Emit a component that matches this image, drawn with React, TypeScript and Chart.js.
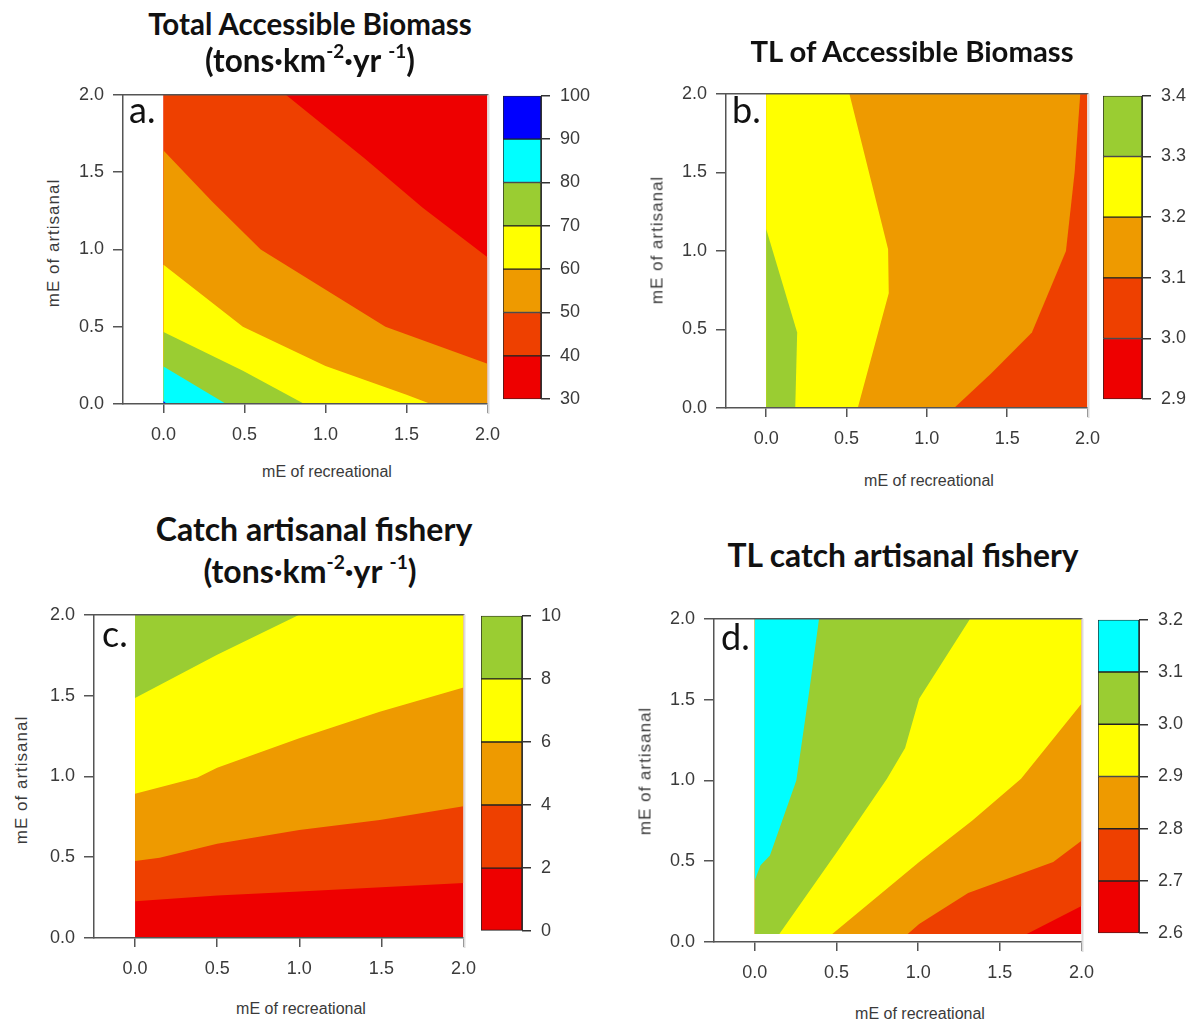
import React, { useEffect, useRef } from 'react';
import { Chart, registerables } from 'chart.js';

Chart.register(...registerables);

// ---------------- shared axis values ----------------
const recreationalTicks = [0, 0.5, 1, 1.5, 2];
const artisanalTicks = [0, 0.5, 1, 1.5, 2];
const recreationalRange = [-0.25, 2];
const artisanalRange = [0, 2];
const effortDomainX = [0, 2];

// ---------------- a. Total accessible biomass ----------------
const biomassLevels = [30, 40, 50, 60, 70, 80, 90, 100];
const biomassDomainY = [0, 2];
const biomassBaseBand = 0;
const biomassC40 = [[0.755, 2], [1.24, 1.59], [1.6, 1.27], [2, 0.95]];
const biomassC50 = [[0, 1.64], [0.3, 1.31], [0.6, 1.0], [1.37, 0.5], [2, 0.26]];
const biomassC60 = [[0, 0.9], [0.49, 0.5], [1.0, 0.245], [1.5, 0.06], [1.65, 0]];
const biomassC70 = [[0, 0.465], [0.49, 0.215], [0.87, 0]];
const biomassC80 = [[0, 0.242], [0.387, 0]];
const biomassC90 = [[0, 0.02], [0.02, 0]];

// ---------------- b. TL of accessible biomass ----------------
const tlBiomassLevels = [2.9, 3.0, 3.1, 3.2, 3.3, 3.4];
const tlBiomassDomainY = [0, 2];
const tlBiomassBaseBand = 1;
const tlBiomassC31 = [[1.955, 2], [1.92, 1.5], [1.866, 1.0], [1.654, 0.48], [1.4, 0.22], [1.17, 0]];
const tlBiomassC32 = [[0.518, 2], [0.759, 1.01], [0.763, 0.73], [0.57, 0]];
const tlBiomassC33 = [[0, 1.14], [0.193, 0.48], [0.181, 0]];

// ---------------- c. Catch artisanal fishery ----------------
const catchLevels = [0, 2, 4, 6, 8, 10];
const catchDomainY = [0, 2];
const catchBaseBand = 0;
const catchC2 = [[2, 0.34], [1.0, 0.288], [0.5, 0.263], [0, 0.227]];
const catchC4 = [[2, 0.815], [1.49, 0.73], [1.0, 0.669], [0.5, 0.584], [0.15, 0.496], [0, 0.476]];
const catchC6 = [[2, 1.55], [1.49, 1.4], [1.0, 1.236], [0.5, 1.054], [0.38, 0.993], [0, 0.892]];
const catchC8 = [[1.0, 2], [0.5, 1.753], [0, 1.485]];

// ---------------- d. TL catch artisanal fishery ----------------
const tlCatchLevels = [2.6, 2.7, 2.8, 2.9, 3.0, 3.1, 3.2];
const tlCatchDomainY = [0.05, 2];
const tlCatchBaseBand = 0;
const tlCatchC27 = [[2, 0.222], [1.665, 0.05]];
const tlCatchC28 = [[2, 0.626], [1.827, 0.495], [1.306, 0.303], [1.006, 0.111], [0.936, 0.05]];
const tlCatchC29 = [[2, 1.475], [1.63, 1.01], [1.33, 0.75], [1.006, 0.495], [0.474, 0.05]];
const tlCatchC30 = [[1.318, 2], [1.006, 1.505], [0.92, 1.2], [0.809, 1.01], [0.509, 0.566], [0.15, 0.05]];
const tlCatchC31 = [[0.393, 2], [0.335, 1.566], [0.254, 1.0], [0.0925, 0.535], [0.035, 0.475], [0, 0.384]];

// ---------------- styles ----------------
const PALETTE = ['#EE0000', '#EE4000', '#EE9A00', '#FFFF00', '#9ACD32', '#00FFFF', '#0000FF'];
const FONT_AXIS = "'Liberation Sans', Arial, Helvetica, sans-serif";
const FONT_TITLE = "Lato, 'Open Sans', sans-serif";
const TEXT_GRAY = '#3a3a3a';
const AXIS_GRAY = '#555555';

type Box = { left: number; top: number; right: number; bottom: number };
type LineSpec = { band: number; points: number[][] };
type PanelSpec = {
  key: string;
  levels: number[];
  domainY: number[];
  baseBand: number;
  contours: LineSpec[];
  decimals: number;
  plot: Box;
  bar: Box;
};

const panels: PanelSpec[] = [
  {
    key: 'a',
    levels: biomassLevels,
    domainY: biomassDomainY,
    baseBand: biomassBaseBand,
    contours: [
      { band: 1, points: biomassC40 },
      { band: 2, points: biomassC50 },
      { band: 3, points: biomassC60 },
      { band: 4, points: biomassC70 },
      { band: 5, points: biomassC80 },
      { band: 6, points: biomassC90 },
    ],
    decimals: 0,
    plot: { left: 123, top: 87, right: 491, bottom: 404 },
    bar: { left: 503, top: 87, right: 541, bottom: 408 },
  },
  {
    key: 'b',
    levels: tlBiomassLevels,
    domainY: tlBiomassDomainY,
    baseBand: tlBiomassBaseBand,
    contours: [
      { band: 2, points: tlBiomassC31 },
      { band: 3, points: tlBiomassC32 },
      { band: 4, points: tlBiomassC33 },
    ],
    decimals: 1,
    plot: { left: 726, top: 86, right: 1091, bottom: 408 },
    bar: { left: 1103, top: 87, right: 1142, bottom: 408 },
  },
  {
    key: 'c',
    levels: catchLevels,
    domainY: catchDomainY,
    baseBand: catchBaseBand,
    contours: [
      { band: 1, points: catchC2 },
      { band: 2, points: catchC4 },
      { band: 3, points: catchC6 },
      { band: 4, points: catchC8 },
    ],
    decimals: 0,
    plot: { left: 94, top: 607, right: 467, bottom: 938 },
    bar: { left: 481, top: 607, right: 522, bottom: 940 },
  },
  {
    key: 'd',
    levels: tlCatchLevels,
    domainY: tlCatchDomainY,
    baseBand: tlCatchBaseBand,
    contours: [
      { band: 1, points: tlCatchC27 },
      { band: 2, points: tlCatchC28 },
      { band: 3, points: tlCatchC29 },
      { band: 4, points: tlCatchC30 },
      { band: 5, points: tlCatchC31 },
    ],
    decimals: 1,
    plot: { left: 714, top: 611, right: 1085, bottom: 942 },
    bar: { left: 1098, top: 611, right: 1139, bottom: 942 },
  },
];

// ---------------- geometry helpers ----------------
type Rect = { x0: number; x1: number; y0: number; y1: number };

function boundaryParam(p: number[], r: Rect) {
  const [x, y] = p;
  const w = r.x1 - r.x0;
  const h = r.y1 - r.y0;
  const eps = 1e-6;
  if (Math.abs(y - r.y0) < eps) return x - r.x0;
  if (Math.abs(x - r.x1) < eps) return w + (y - r.y0);
  if (Math.abs(y - r.y1) < eps) return w + h + (r.x1 - x);
  return 2 * w + h + (r.y1 - y);
}

function rectPolygon(r: Rect) {
  return [
    { x: r.x0, y: r.y0 },
    { x: r.x1, y: r.y0 },
    { x: r.x1, y: r.y1 },
    { x: r.x0, y: r.y1 },
  ];
}

// contour oriented with the higher values on its right: close it clockwise along the border
function superlevelPolygon(line: number[][], r: Rect) {
  const w = r.x1 - r.x0;
  const h = r.y1 - r.y0;
  const P = 2 * (w + h);
  const eps = 1e-6;
  const mod = (v: number) => ((v % P) + P) % P;
  const ts = boundaryParam(line[0], r);
  const te = boundaryParam(line[line.length - 1], r);
  const span = mod(te - ts);
  const corners = [[r.x0, r.y0], [r.x1, r.y0], [r.x1, r.y1], [r.x0, r.y1]];
  const extra = corners
    .map((c) => ({ c, d: mod(te - boundaryParam(c, r)) }))
    .filter((o) => o.d > eps && o.d < span - eps)
    .sort((a, b) => a.d - b.d)
    .map((o) => o.c);
  return [...line, ...extra].map(([x, y]) => ({ x, y }));
}

const framePlugin = {
  id: 'frame',
  afterDraw(chart: any) {
    const { ctx, chartArea: a } = chart;
    ctx.save();
    ctx.strokeStyle = AXIS_GRAY;
    ctx.lineWidth = 1.5;
    ctx.beginPath();
    ctx.moveTo(a.left, a.top);
    ctx.lineTo(a.right + 1, a.top);
    ctx.stroke();
    ctx.strokeStyle = '#dcdcdc';
    ctx.lineWidth = 2;
    ctx.beginPath();
    ctx.moveTo(a.right + 1, a.top);
    ctx.lineTo(a.right + 1, a.bottom + 10);
    ctx.stroke();
    ctx.restore();
  },
};

const axisFont = { family: FONT_AXIS, size: 18 };

function ContourPanel({ spec }: { spec: PanelSpec }) {
  const plotRef = useRef<HTMLCanvasElement>(null);
  const keyRef = useRef<HTMLCanvasElement>(null);

  const plotW = spec.plot.right - spec.plot.left + 80;
  const plotH = spec.plot.bottom - spec.plot.top + 57;
  const keyW = spec.bar.right - spec.bar.left + 60;
  const keyH = spec.bar.bottom - spec.bar.top + 24;

  useEffect(() => {
    const rect: Rect = { x0: effortDomainX[0], x1: effortDomainX[1], y0: spec.domainY[0], y1: spec.domainY[1] };
    const layers = [
      { color: PALETTE[spec.baseBand], pts: rectPolygon(rect) },
      ...spec.contours.map((c) => ({ color: PALETTE[c.band], pts: superlevelPolygon(c.points, rect) })),
    ];
    const plot = new Chart(plotRef.current as HTMLCanvasElement, {
      type: 'line',
      data: {
        datasets: layers.map((l, i) => ({
          data: l.pts,
          backgroundColor: l.color,
          borderColor: 'rgba(0,0,0,0)',
          borderWidth: 0,
          pointRadius: 0,
          pointHoverRadius: 0,
          fill: 'shape',
          tension: 0,
          order: layers.length - i,
        })),
      },
      options: {
        animation: false,
        responsive: false,
        events: [],
        layout: { padding: { top: 12, right: 20, bottom: 0, left: 0 } },
        plugins: { legend: { display: false }, tooltip: { enabled: false } },
        scales: {
          x: {
            type: 'linear',
            min: recreationalRange[0],
            max: recreationalRange[1],
            afterBuildTicks: (s: any) => {
              s.ticks = recreationalTicks.map((v) => ({ value: v }));
            },
            afterFit: (s: any) => {
              s.height = 45;
            },
            ticks: {
              callback: (v: any) => Number(v).toFixed(1),
              font: axisFont,
              color: TEXT_GRAY,
              padding: 11,
              maxRotation: 0,
              autoSkip: false,
            },
            grid: { drawOnChartArea: false, drawTicks: true, tickLength: 9, color: AXIS_GRAY, lineWidth: 1.5 },
            border: { display: true, color: AXIS_GRAY, width: 1.5, z: 1 },
          },
          y: {
            type: 'linear',
            min: artisanalRange[0],
            max: artisanalRange[1],
            afterBuildTicks: (s: any) => {
              s.ticks = artisanalTicks.map((v) => ({ value: v }));
            },
            afterFit: (s: any) => {
              s.width = 60;
            },
            ticks: {
              callback: (v: any) => Number(v).toFixed(1),
              font: axisFont,
              color: TEXT_GRAY,
              padding: 9,
              autoSkip: false,
            },
            grid: { drawOnChartArea: false, drawTicks: true, tickLength: 10, color: AXIS_GRAY, lineWidth: 1.5 },
            border: { display: true, color: AXIS_GRAY, width: 1.5, z: 1 },
          },
        },
      } as any,
      plugins: [framePlugin],
    } as any);

    const lv = spec.levels;
    const key = new Chart(keyRef.current as HTMLCanvasElement, {
      type: 'bar',
      data: {
        labels: [''],
        datasets: lv.slice(0, -1).map((lo, i) => ({
          data: [[lo, lv[i + 1]]],
          backgroundColor: PALETTE[i],
          borderColor: '#222222',
          borderWidth: 1,
          borderSkipped: false,
          barPercentage: 1,
          categoryPercentage: 1,
          grouped: false,
        })),
      },
      options: {
        animation: false,
        responsive: false,
        events: [],
        layout: { padding: { top: 12, right: 0, bottom: 12, left: 0 } },
        plugins: { legend: { display: false }, tooltip: { enabled: false } },
        scales: {
          x: { display: false },
          y: {
            position: 'right',
            min: lv[0],
            max: lv[lv.length - 1],
            afterBuildTicks: (s: any) => {
              s.ticks = lv.map((v) => ({ value: v }));
            },
            afterFit: (s: any) => {
              s.width = 60;
            },
            ticks: {
              callback: (v: any) => Number(v).toFixed(spec.decimals),
              font: axisFont,
              color: TEXT_GRAY,
              padding: 10,
              autoSkip: false,
            },
            grid: { drawOnChartArea: false, drawTicks: true, tickLength: 9, color: '#333333', lineWidth: 1.5 },
            border: { display: true, color: '#333333', width: 1 },
          },
        },
      } as any,
    } as any);

    return () => {
      plot.destroy();
      key.destroy();
    };
  }, []);

  return (
    <>
      <canvas
        ref={plotRef}
        width={plotW}
        height={plotH}
        style={{ position: 'absolute', left: spec.plot.left - 60, top: spec.plot.top - 12, width: plotW, height: plotH }}
      />
      <canvas
        ref={keyRef}
        width={keyW}
        height={keyH}
        style={{ position: 'absolute', left: spec.bar.left, top: spec.bar.top - 12, width: keyW, height: keyH }}
      />
    </>
  );
}

function Title({ cx, top, size, children }: { cx: number; top: number; size: number; children: React.ReactNode }) {
  return (
    <div
      style={{
        position: 'absolute',
        left: cx - 300,
        top,
        width: 600,
        textAlign: 'center',
        fontFamily: FONT_TITLE,
        fontWeight: 700,
        fontSize: size,
        lineHeight: `${size}px`,
        color: '#111',
        whiteSpace: 'nowrap',
      }}
    >
      {children}
    </div>
  );
}

function Sup({ children }: { children: React.ReactNode }) {
  return <span style={{ fontSize: '0.6em', position: 'relative', top: '-0.75em' }}>{children}</span>;
}

function Tag({ left, top, children }: { left: number; top: number; children: React.ReactNode }) {
  return (
    <div
      style={{
        position: 'absolute',
        left,
        top,
        fontFamily: FONT_TITLE,
        fontWeight: 400,
        fontSize: 36,
        lineHeight: '36px',
        color: '#111',
      }}
    >
      {children}
    </div>
  );
}

function XTitle({ cx, top }: { cx: number; top: number }) {
  return (
    <div
      style={{
        position: 'absolute',
        left: cx - 150,
        top,
        width: 300,
        textAlign: 'center',
        fontFamily: FONT_AXIS,
        fontSize: 16,
        lineHeight: '16px',
        color: TEXT_GRAY,
        whiteSpace: 'nowrap',
      }}
    >
      mE of recreational
    </div>
  );
}

function YTitle({ cx, cy }: { cx: number; cy: number }) {
  return (
    <div
      style={{
        position: 'absolute',
        left: cx,
        top: cy,
        transform: 'translate(-50%, -50%) rotate(-90deg)',
        fontFamily: FONT_AXIS,
        fontSize: 17,
        letterSpacing: '1px',
        lineHeight: '17px',
        color: TEXT_GRAY,
        whiteSpace: 'nowrap',
      }}
    >
      mE of artisanal
    </div>
  );
}

export default function App() {
  return (
    <div style={{ position: 'absolute', left: 0, top: 0, width: 1188, height: 1023, background: '#fff', overflow: 'hidden' }}>
      {panels.map((p) => (
        <ContourPanel key={p.key} spec={p} />
      ))}

      <Title cx={310} top={9} size={29.5}>Total Accessible Biomass</Title>
      <Title cx={310} top={45} size={31.5}>
        (tons·km<Sup>-2</Sup>·yr <Sup>-1</Sup>)
      </Title>
      <Title cx={912} top={36} size={29.3}>TL of Accessible Biomass</Title>
      <Title cx={314} top={513} size={32}>Catch artisanal fishery</Title>
      <Title cx={310} top={555} size={32}>
        (tons·km<Sup>-2</Sup>·yr <Sup>-1</Sup>)
      </Title>
      <Title cx={903} top={540} size={31.8}>TL catch artisanal fishery</Title>

      <Tag left={129} top={91}>a.</Tag>
      <Tag left={732} top={91}>b.</Tag>
      <Tag left={102} top={615}>c.</Tag>
      <Tag left={721} top={618}>d.</Tag>

      <XTitle cx={327} top={464} />
      <XTitle cx={929} top={473} />
      <XTitle cx={301} top={1001} />
      <XTitle cx={920} top={1006} />

      <YTitle cx={53} cy={243} />
      <YTitle cx={657} cy={240} />
      <YTitle cx={21} cy={780} />
      <YTitle cx={645} cy={771} />
    </div>
  );
}
